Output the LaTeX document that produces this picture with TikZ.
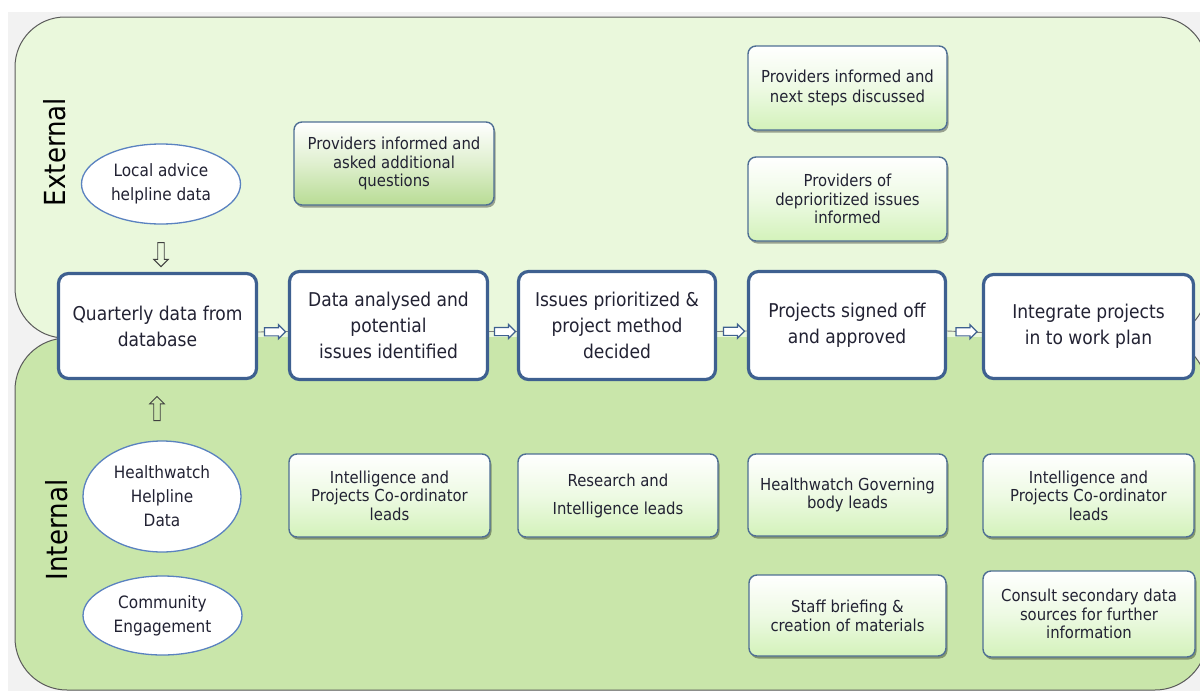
\documentclass[tikz,border=0pt]{standalone}
\usepackage{fontspec}
\setmainfont{DejaVu Sans Condensed}
\usetikzlibrary{shapes.geometric,shapes.arrows,shadows}
\definecolor{extgreen}{HTML}{EAF8DC}
\definecolor{intgreen}{HTML}{C9E6AA}
\definecolor{bordergray}{HTML}{5A5A5A}
\definecolor{pagegray}{HTML}{F2F2F2}
\definecolor{boxblue}{HTML}{3E6090}
\definecolor{ellblue}{HTML}{5A82C0}
\definecolor{gbborder}{HTML}{4F6F94}
\definecolor{gbbottom}{HTML}{D3F2BA}
\definecolor{gbstrong}{HTML}{B8DC94}
\definecolor{txtcol}{HTML}{222233}
\definecolor{connline}{HTML}{7F7F7F}
\definecolor{outarrow}{HTML}{404040}
\tikzset{
  mainbox/.style={draw=boxblue, line width=3.2pt, fill=white, rounded corners=10pt,
    align=center, inner sep=0pt, text=txtcol, font=\fontsize{19}{26}\selectfont},
  greenbox/.style={draw=gbborder, line width=1.4pt, rounded corners=8pt,
    top color=white, bottom color=gbbottom, middle color=white!60!gbbottom,
    drop shadow={shadow xshift=1.5pt, shadow yshift=-2.5pt, fill=black, opacity=0.35},
    align=center, inner sep=0pt, text=txtcol, font=\fontsize{16.5}{18.5}\selectfont},
  srcell/.style={ellipse, draw=ellblue, line width=1.3pt, fill=white, inner sep=0pt,
    align=center, text=txtcol, font=\fontsize{17}{24}\selectfont},
  blockarrow/.style={single arrow, draw=boxblue, fill=white, line width=1.2pt,
    minimum height=21pt, inner sep=3.5pt, single arrow head extend=3pt},
  outlinearrow/.style={single arrow, draw=outarrow, line width=0.9pt,
    minimum height=24pt, inner sep=2.8pt, single arrow head extend=4pt},
  conn/.style={draw=connline, line width=0.9pt},
  sidelabel/.style={rotate=90, text=black, font=\fontsize{29}{30}\selectfont, inner sep=0pt}
}
\begin{document}
\begin{tikzpicture}[x=1pt,y=-1pt]
\useasboundingbox (0,0) rectangle (1200,691);
\clip (0,0) rectangle (1200,691);
\fill[white] (0,0) rectangle (1200,691);
\fill[pagegray] (8,12) rectangle (1200,691);
% regions
\filldraw[fill=extgreen, draw=bordergray, line width=1pt, rounded corners=50pt] (15,17) rectangle (1207,338);
\filldraw[fill=intgreen, draw=bordergray, line width=1pt, rounded corners=52pt] (15,338) rectangle (1207,690);
\fill[intgreen] (72,336.8) rectangle (1150,339.2);
% side labels
\node[sidelabel] (ext) at (55,152) {External};
\node[sidelabel] (int) at (57,530) {Internal};
% ellipses
\node[srcell, minimum width=159pt, minimum height=80pt] (la) at (161,184) {Local advice\\helpline data};
\node[srcell, minimum width=158pt, minimum height=111pt] (hh) at (162,496.5) {Healthwatch\\Helpline\\Data};
\node[srcell, minimum width=159pt, minimum height=79pt] (ce) at (162.5,615.5) {Community\\Engagement};
% main boxes
\node[mainbox, minimum width=198pt, minimum height=105pt] (q) at (157.5,326) {Quarterly data from\\database};
\node[mainbox, minimum width=198pt, minimum height=108pt] (d) at (388.5,325.5) {Data analysed and\\potential\\issues identified};
\node[mainbox, minimum width=197pt, minimum height=108pt] (ip) at (617,325.5) {Issues prioritized \&\\project method\\decided};
\node[mainbox, minimum width=197pt, minimum height=107pt] (ps) at (847,325) {Projects signed off\\and approved};
\node[mainbox, minimum width=210pt, minimum height=104pt] (wp) at (1088.5,326.5) {Integrate projects\\in to work plan};
% green boxes
\node[greenbox, bottom color=gbstrong, middle color=white!55!gbstrong, minimum width=200pt, minimum height=83pt] (g1) at (394,163.5) {Providers informed and\\asked additional\\questions};
\node[greenbox, minimum width=199pt, minimum height=84pt, font=\fontsize{16.5}{20}\selectfont] (g2) at (847.5,88) {Providers informed and\\next steps discussed};
\node[greenbox, minimum width=199pt, minimum height=84pt] (g3) at (847.5,199) {Providers of\\deprioritized issues\\informed};
\node[greenbox, minimum width=201pt, minimum height=83pt] (g4) at (389.5,495.5) {Intelligence and\\Projects Co-ordinator\\leads};
\node[greenbox, minimum width=200pt, minimum height=83pt, font=\fontsize{16.5}{28}\selectfont] (g5) at (618,495.5) {Research and\\Intelligence leads};
\node[greenbox, minimum width=199pt, minimum height=82pt] (g6) at (847.5,495) {Healthwatch Governing\\body leads};
\node[greenbox, minimum width=211pt, minimum height=83pt] (g7) at (1088.5,495.5) {Intelligence and\\Projects Co-ordinator\\leads};
\node[greenbox, minimum width=197pt, minimum height=81pt, font=\fontsize{16.5}{19}\selectfont] (g8) at (847.5,615.5) {Staff briefing \&\\creation of materials};
\node[greenbox, minimum width=212pt, minimum height=86pt] (g9) at (1089,614) {Consult secondary data\\sources for further\\information};
% connectors between main boxes
\draw[conn] ([yshift=-6pt]q.east) -- ([yshift=-6pt]d.west) node[midway, blockarrow] (a1) {};
\draw[conn] ([yshift=-6pt]d.east) -- ([yshift=-6pt]ip.west) node[midway, blockarrow] (a2) {};
\draw[conn] ([yshift=-6pt]ip.east) -- ([yshift=-6pt]ps.west) node[midway, blockarrow] (a3) {};
\draw[conn] ([yshift=-6pt]ps.east) -- ([yshift=-6pt]wp.west) node[midway, blockarrow] (a4) {};
% vertical arrows
\path (la.south) -- (la.south |- q.north) node[pos=0.6, outlinearrow, shape border rotate=270] (va1) {};
\path ([xshift=-5pt]hh.north) -- ([xshift=-5pt]hh.north |- q.south) node[midway, outlinearrow, shape border rotate=90] (va2) {};
\end{tikzpicture}
\end{document}
